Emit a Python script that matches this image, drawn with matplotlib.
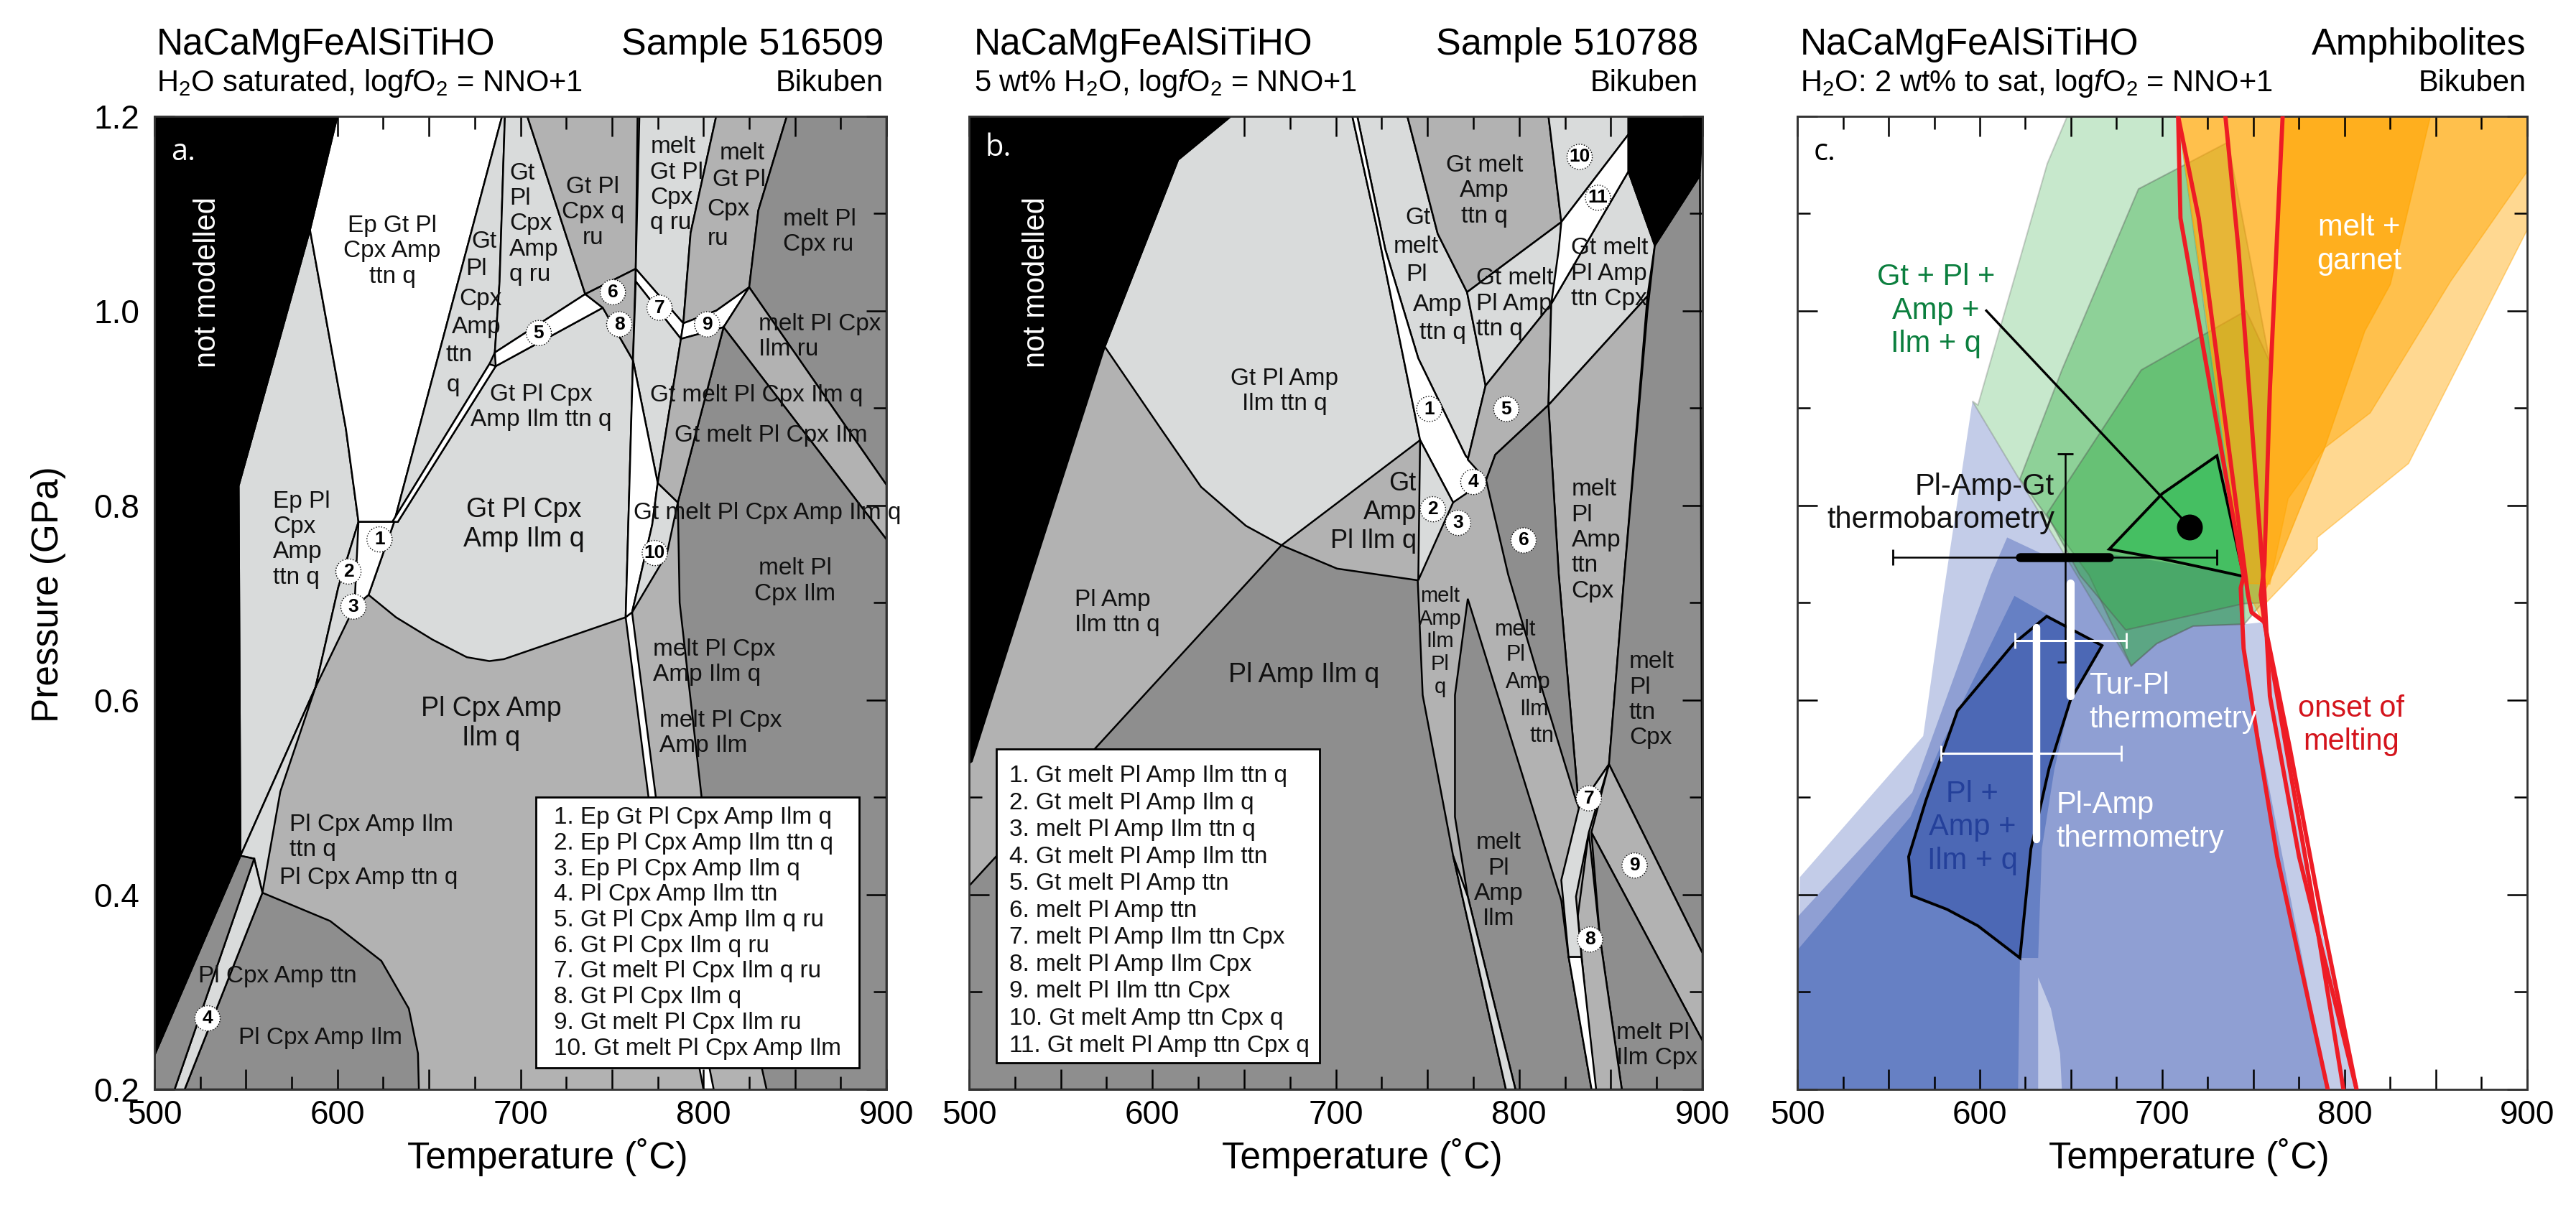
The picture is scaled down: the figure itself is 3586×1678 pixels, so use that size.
import matplotlib
matplotlib.use("Agg")
import matplotlib.pyplot as plt
from matplotlib.patches import Rectangle

W, H = 3586, 1678
plt.rcParams['font.family'] = ['Liberation Sans', 'DejaVu Sans']
plt.rcParams['mathtext.fontset'] = 'custom'
plt.rcParams['mathtext.rm'] = 'Liberation Sans'
plt.rcParams['mathtext.it'] = 'Liberation Sans:italic'
plt.rcParams['mathtext.default'] = 'regular'

LIGHT = '#d9dbdb'
MID = '#b2b2b2'
DARK = '#8e8e8e'

# panel a: phase fields, (temperature, pressure)
a_black = [(500,1.2),(600,1.2),(585,1.083),(546,.82),(547,.44),(500,.235)]
a_ep_pl = [(585,1.083),(546,.82),(547,.44),(588,.613),(600.5,.716),(611.5,.783),(604.6,.879)]
a_wedge = [(617,.708),(609.3,.696),(588,.613),(568.8,.506),(559,.402),(554.5,.437),(547,.44),(588,.613),(600.5,.716),(611.5,.783)]
a_ep_gt = [(600,1.2),(690,1.2),(631,.783),(611.5,.783),(604.6,.879),(585,1.083)]
a_white1 = [(611.5,.783),(631,.783),(617,.708),(609.3,.696)]
a_strip = [(690,1.2),(691.5,1.2),(688.6,1.03),(686,.957),(683,.945),(630,.783),(631,.783)]
a_thin = [(683,.945),(686.5,.943),(633,.783),(630,.783)]
a_main = [(686.5,.943),(745,1.003),(761.5,.949),(757.5,.685),(691,.642),(683,.64),(670.7,.644),(652,.662),(632,.685),(617,.708),(631,.783),(633,.783)]
a_ru_left = [(691.5,1.2),(703.7,1.2),(735.4,1.017),(686,.957),(688.6,1.03)]
a_5 = [(686,.957),(735.4,1.017),(745,1.003),(686.5,.943)]
a_q_ru = [(703.7,1.2),(764,1.2),(763,1.043),(735.4,1.017)]
a_6 = [(735.4,1.017),(763,1.043),(761.5,.949),(745,1.003)]
a_melt_q_ru = [(765,1.2),(807,1.2),(793,1.08),(789,.987),(763,1.043)]
a_7 = [(763,1.043),(789,.987),(787.7,.971),(763,1.03)]
a_melt_ilm = [(763,1.03),(787.7,.971),(775,.823),(761.5,.949)]
a_10 = [(761.5,.949),(775,.823),(772,.78),(761,.69),(757.5,.685)]
a_10b = [(775,.823),(786,.803),(780,.75),(761,.69),(772,.78)]
a_melt_ru = [(807,1.2),(845.6,1.2),(830,1.103),(825,1.024),(807,1.0),(789,.987),(793,1.08)]
a_9 = [(789,.987),(807,1.0),(825,1.024),(811,.983),(787.7,.971)]
a_pl_ru = [(845.6,1.2),(900,1.2),(900,.821),(825,1.024),(830,1.103)]
a_pl_ilm_ru = [(825,1.024),(900,.821),(900,.765),(811,.983)]
a_ilm_dark = [(786,.803),(811,.983),(900,.765),(900,.2),(834.5,.2),(799,.5),(787,.7)]
a_q_band = [(787.7,.971),(811,.983),(786,.803),(775,.823)]
a_stripe = [(757.5,.685),(761,.69),(774,.5),(805.6,.2),(800,.2),(770,.5)]
a_ilm = [(559,.402),(596,.373),(624,.332),(639,.283),(644,.237),(644.5,.2),(516.5,.2)]
a_ttn = [(511,.2),(516.5,.2),(559,.402),(554.5,.437)]
a_ttn_dark = [(500,.235),(547,.44),(554.5,.437),(511,.2),(500,.2)]

a_labels = [("Ep Gt Pl\nCpx Amp\nttn q",630,1.061,'center',24),("Ep Pl\nCpx\nAmp\nttn q",564.7,.765,'left',24),
    ("Gt",673.4,1.071,'left',24),("Pl",670,1.043,'left',24),("Cpx",666.6,1.012,'left',24),("Amp",662.4,.983,'left',24),("ttn",659,.954,'left',24),("q",659.7,.923,'left',24),
    ("Gt\nPl\nCpx\nAmp\nq ru",694,1.089,'left',24),("Gt Pl\nCpx q\nru",739.5,1.101,'center',24),("melt\nGt Pl\nCpx\nq ru",771,1.129,'left',24),
    ("melt",809,1.162,'left',24),("Gt Pl",805,1.134,'left',24),("Cpx",802,1.104,'left',24),("ru",802,1.074,'left',24),
    ("melt Pl\nCpx ru",843.3,1.081,'left',24),("melt Pl Cpx\nIlm ru",830,.973,'left',24),("Gt Pl Cpx\nAmp Ilm ttn q",711.4,.901,'center',24),
    ("Gt Pl Cpx\nAmp Ilm q",702,.78,'center',27),("Gt melt Pl Cpx Ilm q",829,.913,'center',24),("Gt melt Pl Cpx Ilm",837,.872,'center',24),
    ("Gt melt Pl Cpx Amp Ilm q",835,.792,'center',24),("melt Pl\nCpx Ilm",850,.722,'center',24),("melt Pl Cpx\nAmp Ilm q",772.5,.639,'left',24),
    ("melt Pl Cpx\nAmp Ilm",776,.566,'left',24),("Pl Cpx Amp\nIlm q",684,.576,'center',27),("Pl Cpx Amp Ilm\nttn q",573.8,.459,'left',24),
    ("Pl Cpx Amp ttn q",568.3,.417,'left',24),("Pl Cpx Amp ttn",524,.316,'left',24),("Pl Cpx Amp Ilm",546,.253,'left',24)]
a_num_T = [623,606,608.7,529,710,750.5,776,754,802,773.4]
a_num_P = [.765,.732,.696,.273,.977,1.019,1.003,.986,.986,.751]
a_legend = ["1. Ep Gt Pl Cpx Amp Ilm q","2. Ep Pl Cpx Amp Ilm ttn q","3. Ep Pl Cpx Amp Ilm q","4. Pl Cpx Amp Ilm ttn","5. Gt Pl Cpx Amp Ilm q ru",
    "6. Gt Pl Cpx Ilm q ru","7. Gt melt Pl Cpx Ilm q ru","8. Gt Pl Cpx Ilm q","9. Gt melt Pl Cpx Ilm ru","10. Gt melt Pl Cpx Amp Ilm"]

# panel b
b_black = [(500,1.2),(643,1.2),(614,1.155),(574,.963),(534,.729),(501.5,.537),(500,.535)]
b_black2 = [(859.6,1.2),(900,1.2),(898.6,1.139),(874,1.067),(859.6,1.143)]
b_right = [(898.6,1.139),(874,1.067),(870,1.0),(857.4,.729),(849,.534),(900,.34)]
b_9 = [(849,.534),(900,.34),(900,.25),(839.4,.464)]
b_ilm_cpx = [(839.4,.464),(900,.25),(900,.2),(856,.2),(844,.357)]
b_8 = [(838,.464),(844,.357),(856,.2),(841,.2),(832,.378)]
b_7 = [(849,.534),(838,.464),(831,.398),(834,.336),(827,.336),(823,.415),(832.6,.489)]
b_white_low = [(827,.336),(834,.336),(842,.2),(839.5,.2)]
b_ttn_cpx = [(816,.903),(870,1.015),(857.4,.729),(849,.534),(832.6,.489),(821.6,.729)]
b_10 = [(816,1.2),(859.6,1.2),(859.6,1.181),(823,1.091)]
b_11 = [(859.6,1.181),(859.6,1.143),(817.5,1.007),(821.6,1.063),(823,1.091)]
b_cpx = [(859.6,1.143),(874,1.067),(870,1.015),(816,.903),(817.5,1.007)]
b_5 = [(817.5,1.007),(781.7,.923),(772,.847),(782,.826),(787,.852),(816,.903)]
b_ttn_q = [(771.6,1.019),(823,1.091),(820,1.019),(817.5,1.007),(781.7,.923)]
b_top = [(739,1.2),(816,1.2),(823,1.091),(771.6,1.019),(755.6,1.079)]
b_tall = [(711.7,1.2),(739,1.2),(755.6,1.079),(771.6,1.019),(781.7,.923),(772,.847),(770.8,.851),(745,.951),(727,1.063)]
b_1 = [(709,1.2),(711.7,1.2),(727,1.063),(745,.951),(770.8,.851),(782,.826),(764,.803),(746,.867),(722.7,1.083)]
b_gt_pl = [(643,1.2),(709,1.2),(722.7,1.083),(746,.867),(670.4,.759),(651,.779),(626.5,.819),(604.5,.879),(574,.963),(614,1.155)]
b_pl_amp = [(500,.409),(670.4,.759),(700.7,.735),(744.7,.723),(747.4,.605),(764,.44),(792.8,.2),(500,.2)]
b_2 = [(746,.867),(764,.803),(745,.723)]
b_6 = [(782,.826),(787,.852),(816,.903),(821.6,.729),(832.6,.489),(831,.497),(810.6,.623),(794,.729)]
b_ilm = [(772,.704),(823,.394),(827,.336),(839.5,.2),(798,.2),(772,.398),(765,.48),(765,.605)]
b_white_left = [(764,.44),(772,.398),(798,.2),(792.8,.2)]
b_labels = [("Gt Pl Amp\nIlm ttn q",672,.917,'center',24),("Gt",738,1.095,'left',24),("melt",743.8,1.066,'center',24),("Pl",744,1.037,'center',24),
    ("Amp",755.6,1.006,'center',24),("ttn q",758.4,.977,'center',24),("Gt melt\nAmp\nttn q",781,1.123,'center',24),("Gt melt\nPl Amp\nttn q",776.5,1.007,'left',24),
    ("Gt melt\nPl Amp\nttn Cpx",828.5,1.038,'left',24),("Gt\nAmp\nPl Ilm q",744,.793,'right',26),("Pl Amp\nIlm ttn q",557.7,.69,'left',24),("Pl Amp Ilm q",641.6,.626,'left',27),
    ("melt\nAmp\nIlm\nPl\nq",757,.66,'center',21),("melt",798,.672,'center',22),("Pl",798,.646,'center',22),("Amp",805,.618,'center',22),("Ilm",808,.59,'center',22),("ttn",812.6,.563,'center',22),
    ("melt\nPl\nAmp\nttn\nCpx",828.5,.764,'left',24),("melt\nPl\nAmp\nIlm",788.7,.414,'center',24),("melt\nPl\nttn\nCpx",860,.60,'left',24),("melt Pl\nIlm Cpx",853,.245,'left',24)]
b_num_T = [751,753,766.7,775,793,802.4,838,838.7,863,833,843]
b_num_P = [.899,.796,.782,.824,.899,.764,.499,.354,.43,1.158,1.116]
b_legend = ["1. Gt melt Pl Amp Ilm ttn q","2. Gt melt Pl Amp Ilm q","3. melt Pl Amp Ilm ttn q","4. Gt melt Pl Amp Ilm ttn","5. Gt melt Pl Amp ttn","6. melt Pl Amp ttn",
    "7. melt Pl Amp Ilm ttn Cpx","8. melt Pl Amp Ilm Cpx","9. melt Pl Ilm ttn Cpx","10. Gt melt Amp ttn Cpx q","11. Gt melt Pl Amp ttn Cpx q"]

# panel c
c_blue1 = [(596,.907),(580,.708),(569,.563),(501.4,.418),(500,.2),(806.5,.2),(783.5,.397),(756,.68),(745,.678),(717,.676),(697,.658),(683,.635)]
c_blue2 = [(615,.767),(640,.745),(671,.75),(700,.742),(744.6,.727),(744.6,.645),(790.7,.2),(500,.2),(500,.377),(563,.505),(606,.728)]
c_wedge = [(632,.2),(645,.2),(644,.237),(639,.283),(632,.315)]
c_blue3 = [(619,.707),(667,.656),(649.7,.6),(641,.53),(634,.447),(632,.335),(622,.335),(621,.2),(500,.2),(500,.343),(562,.48),(578,.55)]
c_blue4 = [(636.7,.686),(667,.656),(649.7,.6),(638,.53),(628,.447),(622,.335),(599,.368),(582,.385),(562.7,.399),(561,.439),(570.5,.497),(587.8,.589),(618.6,.658)]
c_green1 = [(648,1.2),(708.7,1.2),(745,.7),(745,.678),(717,.676),(697,.658),(683,.635),(596,.907),(599,.903),(637,1.151)]
c_green2 = [(687,1.125),(736,1.173),(759,.947),(755,.70),(745,.678),(717,.676),(697,.658),(683,.635),(660,.728),(622,.827),(645,.939)]
c_green3 = [(688.5,.939),(746,1.0),(759,.947),(756,.70),(744.6,.699),(680,.672),(655,.728),(636.7,.791)]
c_green4 = [(730,.851),(700,.812),(671,.755),(700,.745),(730,.733),(744.6,.727)]
c_orange1 = [(708.7,1.2),(900,1.2),(900,1.083),(835,.843),(785,.767),(785,.755),(757,.70),(755,.68),(745,.72)]
c_orange2 = [(708.7,1.2),(900,1.2),(900,1.143),(858,1.03),(814,.895),(789,.859),(769,.807),(759,.719),(745,.72)]
c_orange3 = [(766,1.2),(847,1.2),(825,1.027),(811,.979),(789,.859),(763,.739),(756,.711),(759,.96)]
melt_a_T = [708.7,710,744.6,743,744.6,752,763,775,790.7]
melt_a_P = [1.2,1.095,.727,.715,.653,.563,.439,.335,.2]
melt_b_T = [708.7,720,747,749,756,768,782,799.3]
melt_b_P = [1.2,1.095,.708,.69,.68,.55,.4,.2]
melt_c_T = [734.6,741.8,756,759,775,806.5]
melt_c_P = [1.2,1.063,.711,.604,.439,.2]
melt_d_T = [766,759,756,754,756,770,785,806.5]
melt_d_P = [1.2,.919,.739,.708,.68,.55,.4,.2]


def setup(ax, left):
    ax.set_xlim(500, 900)
    ax.set_ylim(.2, 1.2)
    ax.set_xticks([500,550,600,650,700,750,800,850,900], ['500','','600','','700','','800','','900'])
    ax.set_xticks([525,575,625,675,725,775,825,875], minor=True)
    ax.set_yticks([.2,.4,.6,.8,1.0,1.2], ['0.2','0.4','0.6','0.8','1.0','1.2'] if left else [])
    ax.set_yticks([.3,.5,.7,.9,1.1], minor=True)
    ax.tick_params(which='major', direction='in', length=20, width=1.8, top=True, right=True, labelsize=33, pad=10)
    ax.tick_params(which='minor', direction='in', length=13, width=1.8, top=True, right=True)
    ax.tick_params(axis='y', pad=15)
    for s in ax.spines.values():
        s.set_linewidth(2)
        s.set_color('#333333')


def panel(px0, px1):
    return fig.add_axes([px0/W, 1-1517/H, (px1-px0)/W, (1517-161.5)/H])


def poly(ax, pts, col, **kw):
    kw.setdefault('ec', 'k')
    kw.setdefault('lw', 1.8)
    ax.fill([p[0] for p in pts], [p[1] for p in pts], fc=col, **kw)


def labels(ax, items):
    for s, t, p, ha, size in items:
        ax.text(t, p, s, ha=ha, va='center', fontsize=size, linespacing=1.18, color='#111111', zorder=4)


def numbers(ax, ts, ps):
    ax.scatter(ts, ps, s=640, c='white', edgecolors='k', linewidths=1, linestyle=':', zorder=5)
    for i, (t, p) in enumerate(zip(ts, ps)):
        ax.text(t, p, str(i+1), ha='center', va='center', fontsize=19, weight='bold', zorder=6)


def legend(ax, x0, x1, y0, y1, tx, p0, p1, rows):
    ax.add_patch(Rectangle((x0, y0), x1-x0, y1-y0, fc='white', ec='k', lw=2, zorder=6))
    step = (p1-p0)/(len(rows)-1)
    for i, r in enumerate(rows):
        ax.text(tx, p0+i*step, r, ha='left', va='center', fontsize=24, color='#111111', zorder=7)


def header(x0, x1, left, right, sub):
    fig.text(x0/W, 1-76/H, left, fontsize=37, ha='left', va='baseline')
    fig.text(x1/W, 1-76/H, right, fontsize=37.5, ha='right', va='baseline')
    fig.text(x0/W, 1-127/H, sub, fontsize=30, ha='left', va='baseline')
    fig.text(x1/W, 1-127/H, 'Bikuben', fontsize=30, ha='right', va='baseline')


fig = plt.figure(figsize=(W/100, H/100), dpi=100)
ax_a = panel(215, 1234)
ax_b = panel(1349, 2370)
ax_c = panel(2502, 3518)
setup(ax_a, True)
setup(ax_b, False)
setup(ax_c, False)

# a
ax_a.set_facecolor(MID)
for pts, col in [(a_ep_pl,LIGHT),(a_wedge,LIGHT),(a_ep_gt,'white'),(a_strip,LIGHT),(a_main,LIGHT),(a_thin,'white'),(a_white1,'white'),
                 (a_ru_left,LIGHT),(a_5,'white'),(a_q_ru,MID),(a_6,MID),(a_melt_q_ru,LIGHT),(a_7,'white'),(a_melt_ilm,LIGHT),
                 (a_10,'white'),(a_10b,LIGHT),(a_melt_ru,MID),(a_9,'white'),(a_pl_ru,DARK),(a_pl_ilm_ru,MID),(a_ilm_dark,DARK),(a_q_band,MID),
                 (a_stripe,'white'),(a_ilm,DARK),(a_ttn,LIGHT),(a_ttn_dark,DARK),(a_black,'k')]:
    poly(ax_a, pts, col)
labels(ax_a, a_labels)
numbers(ax_a, a_num_T, a_num_P)
legend(ax_a, 708.4, 884.9, .222, .5, 718.3, .479, .242, a_legend)
ax_a.text(529, 1.029, 'not modelled', color='white', rotation=90, ha='center', va='center', fontsize=30)
ax_a.text(509, 1.163, 'a.', color='white', fontsize=30, family='Open Sans', va='center')

# b
ax_b.set_facecolor(MID)
for pts, col in [(b_gt_pl,LIGHT),(b_pl_amp,DARK),(b_tall,LIGHT),(b_top,MID),(b_1,'white'),(b_2,LIGHT),(b_ttn_q,LIGHT),(b_5,MID),(b_10,LIGHT),(b_cpx,LIGHT),
                 (b_11,'white'),(b_ttn_cpx,MID),(b_6,DARK),(b_ilm,DARK),(b_white_left,LIGHT),(b_right,DARK),(b_9,MID),(b_ilm_cpx,DARK),(b_8,MID),(b_7,LIGHT),
                 (b_white_low,'white'),(b_black,'k'),(b_black2,'k')]:
    poly(ax_b, pts, col)
labels(ax_b, b_labels)
numbers(ax_b, b_num_T, b_num_P)
legend(ax_b, 515, 691, .227, .55, 522, .522, .245, b_legend)
ax_b.text(537, 1.029, 'not modelled', color='white', rotation=90, ha='center', va='center', fontsize=30)
ax_b.text(509, 1.167, 'b.', color='white', fontsize=30, family='Open Sans', va='center')

# c
for pts, col in [(c_blue1,'#c3cce8'),(c_blue2,'#8f9fd3'),(c_wedge,'#c3cce8'),(c_blue3,'#6680c4')]:
    poly(ax_c, pts, col, ec='none', lw=0)
for pts, a in [(c_green1,.27),(c_green2,.38),(c_green3,.42)]:
    poly(ax_c, pts, '#33ad45', ec='#55555566', lw=1.5, alpha=a)
poly(ax_c, c_blue4, '#4c68b5', ec='k', lw=2.8)
poly(ax_c, c_green4, '#45bf62', ec='k', lw=2.8)
for pts, a in [(c_orange1,.43),(c_orange2,.47),(c_orange3,.6)]:
    poly(ax_c, pts, '#ffa500', ec='#ffa500', lw=1.2, alpha=a)
for ts, ps in [(melt_a_T,melt_a_P),(melt_b_T,melt_b_P),(melt_c_T,melt_c_P),(melt_d_T,melt_d_P)]:
    ax_c.plot(ts, ps, color='#ee1c25', lw=4.2, zorder=3)

# thermobarometry
ax_c.plot([603.6, 715], [1.0, .778], color='k', lw=2.4, zorder=4)
ax_c.scatter([715], [.778], s=620, c='k', zorder=5)
ax_c.errorbar([647], [.747], xerr=[[94.6],[83]], yerr=[[.108],[.106]], color='k', lw=1.8, capsize=8, capthick=2, zorder=4)
ax_c.plot([622, 671], [.747, .747], color='k', lw=9, solid_capstyle='round', zorder=4)
ax_c.errorbar([631], [.545], xerr=[[52.4],[46.6]], color='white', lw=2.2, capsize=8, capthick=2, zorder=4)
ax_c.plot([631, 631], [.674, .457], color='white', lw=7.5, solid_capstyle='round', zorder=4)
ax_c.errorbar([649.6], [.661], xerr=[[30.2],[30.9]], color='white', lw=2.2, capsize=8, capthick=2, zorder=4)
ax_c.plot([649.6, 649.6], [.72, .604], color='white', lw=8, solid_capstyle='round', zorder=4)

for s, t, p, c, ha in [("Gt + Pl +\nAmp +\nIlm + q",576,1.0,'#0b7f3e','center'),("melt +\ngarnet",808,1.068,'white','center'),
                       ("Pl-Amp-Gt\nthermobarometry",641,.802,'#111111','right'),("Tur-Pl\nthermometry",660,.597,'white','left'),
                       ("Pl-Amp\nthermometry",642,.475,'white','left'),("onset of\nmelting",803.6,.574,'#d4141c','center'),("Pl +\nAmp +\nIlm + q",596,.469,'#24409a','center')]:
    ax_c.text(t, p, s, color=c, ha=ha, va='center', fontsize=30, linespacing=1.22, zorder=6)
ax_c.text(509, 1.163, 'c.', color='k', fontsize=30, family='Open Sans', va='center')

header(218, 1230, 'NaCaMgFeAlSiTiHO', 'Sample 516509', r'H$_2$O saturated, log$\mathit{f}$O$_2$ = NNO+1')
header(1356, 2364, 'NaCaMgFeAlSiTiHO', 'Sample 510788', r'5 wt% H$_2$O, log$\mathit{f}$O$_2$ = NNO+1')
header(2506, 3517, 'NaCaMgFeAlSiTiHO', 'Amphibolites', r'H$_2$O: 2 wt% to sat, log$\mathit{f}$O$_2$ = NNO+1')
for cx in [762, 1896, 3047]:
    fig.text(cx/W, 1-1612/H, 'Temperature (\u02daC)', fontsize=37, ha='center', va='center')
fig.text(68/W, 1-828/H, 'Pressure (GPa)', fontsize=37, rotation=90, ha='center', va='center')

fig.savefig('out.png', dpi=100)
